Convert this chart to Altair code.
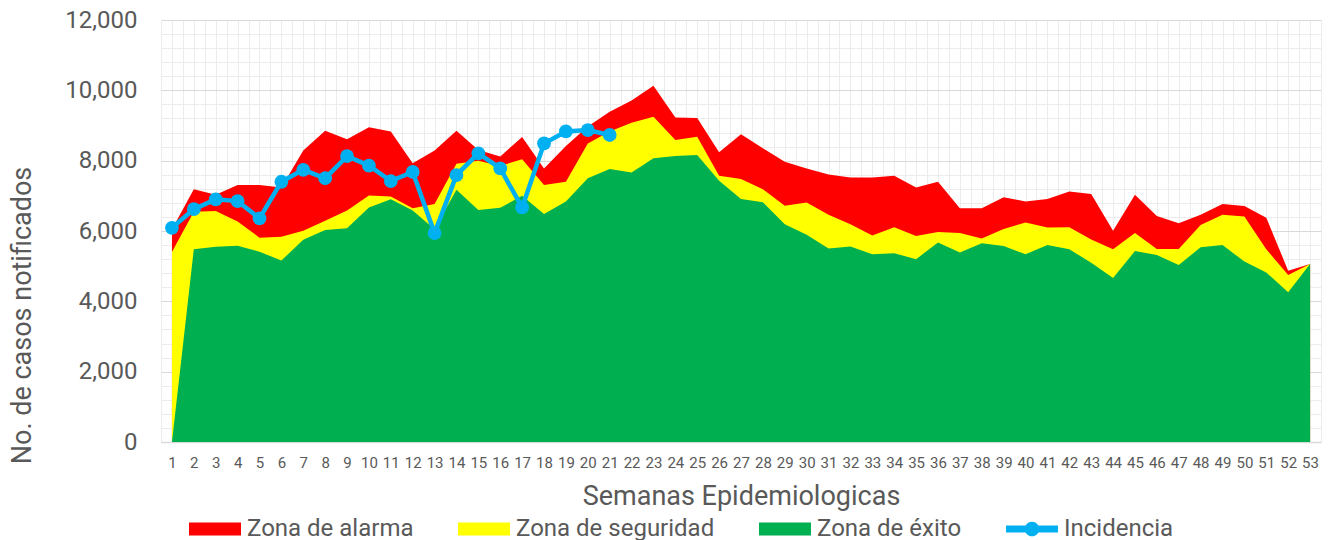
import altair as alt
import pandas as pd

semanas = list(range(1, 54))

alarma = [6050, 7190, 7030, 7310, 7310, 7240, 8290, 8850, 8610, 8950,
          8830, 7930, 8290, 8850, 8300, 8120, 8670, 7780, 8420, 8970,
          9390, 9710, 10130, 9230, 9210, 8240, 8750, 8350, 7970, 7780,
          7610, 7520, 7520, 7570, 7240, 7400, 6650, 6650, 6960, 6840,
          6910, 7120, 7050, 6010, 7030, 6430, 6220, 6460, 6770, 6710,
          6380, 4870, 5060]

seguridad = [5400, 6550, 6570, 6270, 5810, 5840, 6010, 6290, 6580, 7010,
             6980, 6650, 6770, 7910, 8000, 7850, 8040, 7310, 7400, 8490,
             8830, 9080, 9250, 8590, 8680, 7570, 7480, 7190, 6720, 6810,
             6460, 6190, 5870, 6110, 5860, 5970, 5940, 5790, 6060, 6240,
             6100, 6110, 5760, 5480, 5940, 5490, 5490, 6170, 6460, 6410,
             5480, 4750, 5060]

exito = [0, 5480, 5550, 5580, 5410, 5160, 5750, 6030, 6080, 6670,
         6900, 6580, 6050, 7170, 6600, 6660, 7000, 6480, 6840, 7500,
         7760, 7660, 8070, 8130, 8160, 7430, 6910, 6820, 6190, 5890,
         5500, 5560, 5340, 5370, 5200, 5670, 5390, 5650, 5570, 5340,
         5600, 5480, 5100, 4660, 5430, 5320, 5030, 5540, 5600, 5130,
         4820, 4260, 5060]

incidencia = [6090, 6620, 6900, 6850, 6360, 7400, 7740, 7500, 8130, 7860,
              7420, 7680, 5940, 7590, 8210, 7780, 6670, 8490, 8830, 8870,
              8730]

series = ["Zona de alarma", "Zona de seguridad", "Zona de éxito", "Incidencia"]
colores = ["#ff0000", "#ffff00", "#00b050", "#00b0f0"]

y_ticks = list(range(0, 12001, 400))
x_ticks = [i / 2 for i in range(1, 108)]

rows = []
for nombre, vals in zip(series, [alarma, seguridad, exito, incidencia]):
    for s, v in zip(semanas, vals):
        rows.append({"semana": s, "serie": nombre, "casos": v})
df = pd.DataFrame(rows)

FONT = "Roboto"
GRAY = "#595959"

rect_path = "M-1,-0.25H1V0.25H-1Z"
line_path = ("M-1,-0.13H1V0.13H-1Z "
             "M-0.28,0A0.28,0.28 0 1,1 0.28,0A0.28,0.28 0 1,1 -0.28,0Z")

legend = alt.Legend(
    title=None,
    orient="none",
    legendX=28,
    legendY=483,
    direction="horizontal",
    columns=4,
    padding=0,
    symbolSize=2704,
    symbolType=rect_path,
    symbolStrokeWidth=0,
    symbolOpacity=1,
    labelFont=FONT,
    labelFontSize=24,
    labelColor=GRAY,
    labelOffset=6,
    labelLimit=400,
    columnPadding=44,
)

fill_scale = alt.Scale(domain=series, range=colores)
fill_enc = alt.Fill("serie:N", scale=fill_scale, legend=legend)
shape_enc = alt.Shape(
    "serie:N",
    scale=alt.Scale(domain=series, range=[rect_path, rect_path, rect_path, line_path]),
    legend=legend,
)

x_enc = alt.X(
    "semana:Q",
    scale=alt.Scale(domain=[0.5, 53.5], nice=False, zero=False),
    axis=alt.Axis(
        values=x_ticks,
        labelExpr="datum.value % 1 === 0 ? '' + datum.value : ''",
        labelOverlap=False,
        labelFlush=False,
        grid=True,
        gridColor="#ececec",
        gridWidth=1,
        ticks=False,
        domainColor="#d9d9d9",
        domainWidth=1.5,
        labelFont=FONT,
        labelFontSize=15,
        labelColor=GRAY,
        labelPadding=13,
        title="Semanas Epidemiologicas",
        titleFont=FONT,
        titleFontSize=27,
        titleFontWeight="normal",
        titleColor=GRAY,
        titlePadding=13,
    ),
)

y_axis = alt.Axis(
    values=y_ticks,
    labelExpr="datum.value % 2000 === 0 ? format(datum.value, ',') : ''",
    labelOverlap=False,
    grid=True,
    gridColor={"condition": {"test": "datum.value % 2000 === 0", "value": "#d9d9d9"},
               "value": "#ececec"},
    gridWidth=1,
    ticks=False,
    domain=False,
    labelFont=FONT,
    labelFontSize=24,
    labelColor=GRAY,
    labelPadding=24,
    title="No. de casos notificados",
    titleFont=FONT,
    titleFontSize=27,
    titleFontWeight="normal",
    titleColor=GRAY,
    titleAngle=270,
    titleBaseline="alphabetic",
    titleX=-131,
    titleY=295,
)

y_scale = alt.Scale(domain=[0, 12000], nice=False)
y_enc = alt.Y("casos:Q", scale=y_scale, axis=y_axis, stack=None)

base = alt.Chart(df)


def zona(nombre):
    return base.transform_filter(alt.datum.serie == nombre).mark_area(
        opacity=1, interpolate="linear"
    ).encode(x=x_enc, y=y_enc, fill=fill_enc)


linea = base.transform_filter(alt.datum.serie == "Incidencia").mark_line(
    color="#00b0f0",
    strokeWidth=4.5,
    point=alt.OverlayMarkDef(filled=True, size=190, opacity=1, color="#00b0f0"),
).encode(x=x_enc, y=y_enc)

leyenda = base.mark_point(filled=True, opacity=0, size=1).encode(
    x=x_enc, y=y_enc, fill=fill_enc, shape=shape_enc
)

chart = alt.layer(
    zona("Zona de alarma"),
    zona("Zona de seguridad"),
    zona("Zona de éxito"),
    linea,
    leyenda,
).properties(
    width=1160,
    height=422,
    padding={"left": 153, "top": 12, "right": 4, "bottom": 110},
    autosize=alt.AutoSizeParams(type="none"),
    background="white",
).configure_view(strokeWidth=0)

chart.save("out.html", embed_options={"renderer": "svg", "actions": False})
